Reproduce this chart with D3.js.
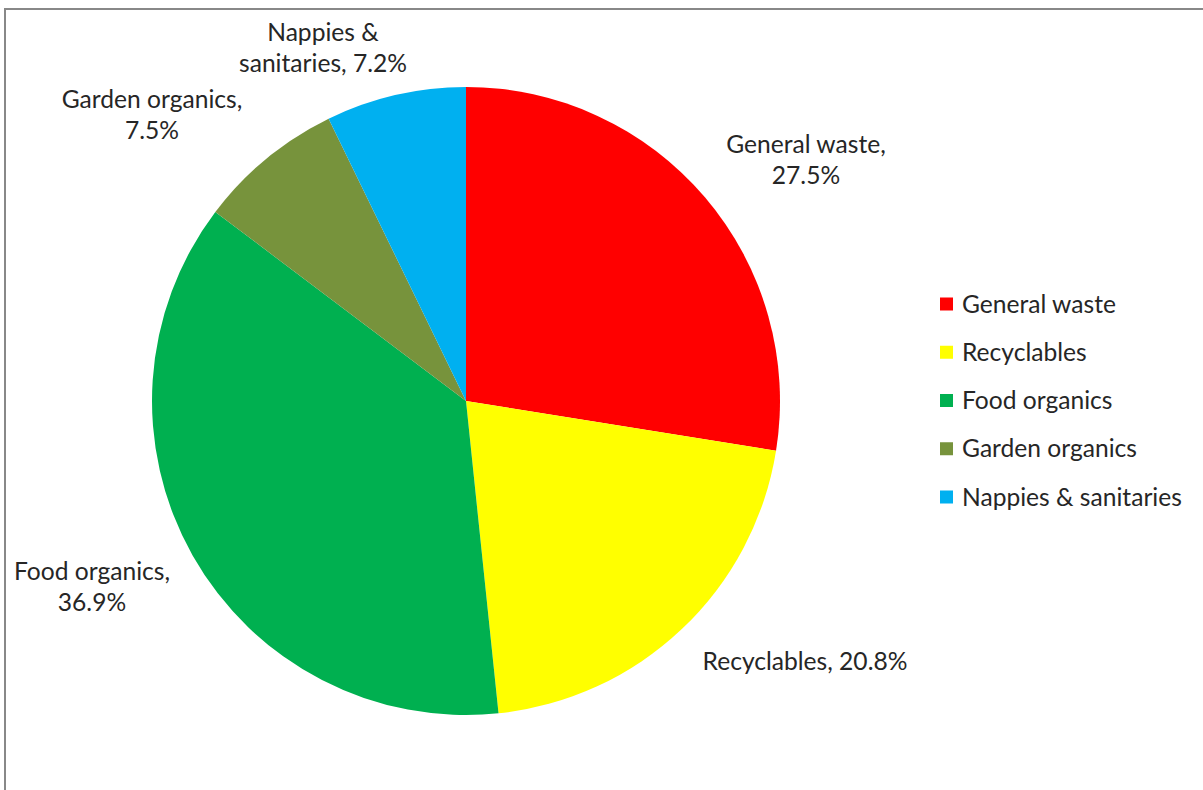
<!DOCTYPE html>
<html>
<head>
<meta charset="utf-8">
<script src="https://cdn.jsdelivr.net/npm/d3@7"></script>
<style>
  html, body { margin: 0; padding: 0; background: #fff; }
  svg { display: block; }
  text { font-family: Lato, "Open Sans", sans-serif; fill: #262626; }
</style>
</head>
<body>
<svg id="chart" width="1203" height="790"></svg>
<script>
// ---- data ----
const categories = ["General waste", "Recyclables", "Food organics", "Garden organics", "Nappies & sanitaries"];
const values = [27.5, 20.8, 36.9, 7.5, 7.2];
const colors = ["#FF0000", "#FFFF00", "#00B050", "#77933C", "#00B0F0"];
// data label text lines
const labelLines = [
  ["General waste,", "27.5%"],
  ["Recyclables, 20.8%"],
  ["Food organics,", "36.9%"],
  ["Garden organics,", "7.5%"],
  ["Nappies &", "sanitaries, 7.2%"]
];

// ---- layout ----
const W = 1203, H = 790;
const cx = 466, cy = 401, R = 314;
const labelAnchors = [[806, 160], [805, 661], [92, 587], [152, 115], [323, 48]];
const fontSize = 24.6, lineH = 31;

const svg = d3.select("#chart");

// frame
svg.append("rect")
  .attr("x", 5).attr("y", 9)
  .attr("width", W + 20).attr("height", H + 20)
  .attr("fill", "#fff")
  .attr("stroke", "#888").attr("stroke-width", 2);

const pie = d3.pie().sort(null).value(d => d)(values);
const arc = d3.arc().innerRadius(0).outerRadius(R);

const g = svg.append("g").attr("transform", `translate(${cx},${cy})`);
g.selectAll("path").data(pie).join("path")
  .attr("d", arc)
  .attr("fill", (d, i) => colors[i]);

// data labels
labelLines.forEach((lines, i) => {
  const [x, y] = labelAnchors[i];
  const t = svg.append("text")
    .attr("text-anchor", "middle")
    .attr("font-size", fontSize);
  const n = lines.length;
  lines.forEach((ln, j) => {
    t.append("tspan")
      .attr("x", x)
      .attr("y", y + (j - (n - 1) / 2) * lineH)
      .attr("dy", "0.35em")
      .text(ln);
  });
});

// legend
const legY = d3.scalePoint().domain(categories).range([304, 497]);
const leg = svg.append("g");
categories.forEach((c, i) => {
  const y = legY(c);
  leg.append("rect")
    .attr("x", 940).attr("y", y - 6.5)
    .attr("width", 13).attr("height", 13)
    .attr("fill", colors[i]);
  leg.append("text")
    .attr("x", 962).attr("y", y)
    .attr("dy", "0.35em")
    .attr("font-size", fontSize)
    .text(c);
});
</script>
</body>
</html>
